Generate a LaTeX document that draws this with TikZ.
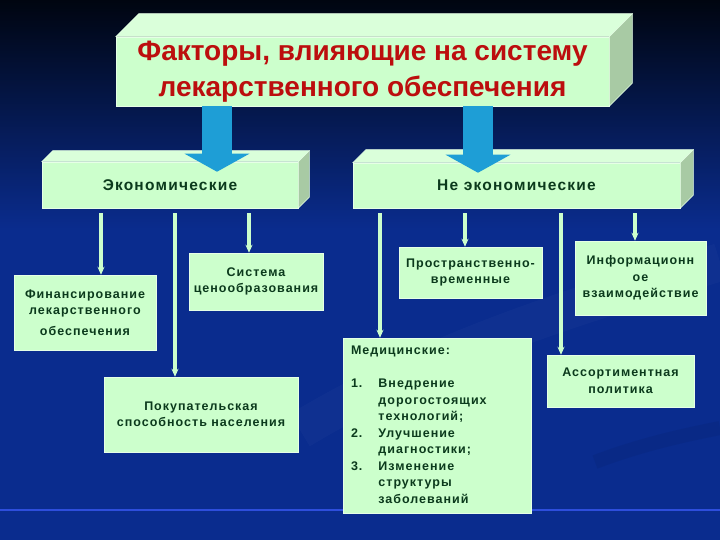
\documentclass[tikz,border=0pt]{standalone}
\usepackage{fontspec}
\setmainfont{Liberation Sans}
\newfontfamily\boxfont[LetterSpace=8]{Liberation Sans}
\usetikzlibrary{positioning,calc,arrows.meta}
\definecolor{bgtop}{HTML}{000510}
\definecolor{bgblue}{HTML}{0A2C8E}
\definecolor{boxfill}{HTML}{CCFFCC}
\definecolor{boxtop}{HTML}{DAFFDA}
\definecolor{boxside}{HTML}{A8CAA4}
\definecolor{boxedge}{HTML}{E6FFE6}
\definecolor{txtgreen}{HTML}{0B3A1C}
\definecolor{titlered}{HTML}{BC0E0E}
\definecolor{arrcyan}{HTML}{1E9ED6}
\definecolor{rulecol}{HTML}{2E4EDC}

\begin{document}
\begin{tikzpicture}[x=1pt,y=-1pt,
  facebox/.style={draw=boxedge, line width=0.5pt, fill=boxfill, inner sep=0pt, align=center},
  topface/.style={draw=boxedge, line width=0.5pt, fill=boxtop},
  sideface/.style={draw=boxedge, line width=0.5pt, fill=boxside},
  headtext/.style={font=\fontsize{28}{36}\selectfont\bfseries\color{titlered}},
  grouptext/.style={font=\boxfont\fontsize{15.5}{19}\selectfont\bfseries\color{txtgreen}},
  itemtext/.style={font=\boxfont\fontsize{12.5}{16.5}\selectfont\bfseries\color{txtgreen}},
  blockarrow/.style={-{Triangle[length=18pt,width=64pt]}, line width=30pt, arrcyan},
  thinarrow/.style={-{Stealth[length=8pt,width=7pt]}, line width=3.5pt, boxfill, shorten <=5pt},
]
\useasboundingbox (0,0) rectangle (720,540);

% Background and swooshes
\fill[top color=bgtop, bottom color=bgblue] (0,0) rectangle (720,230);
\fill[bgblue] (0,230) rectangle (720,540);
\draw[white, opacity=0.025, line width=38pt] (300,430) .. controls (450,340) and (600,300) .. (720,262);
\draw[black, opacity=0.05, line width=14pt] (595,462) .. controls (640,445) and (680,436) .. (720,428);
\draw[rulecol, line width=1.5pt] (0,510) -- (720,510);

% Title box
\node[facebox, minimum width=493, minimum height=69, headtext] (title) at (362.5,71.5)
  {Факторы, влияющие на систему\\лекарственного обеспечения};

% Two groups
\node[facebox, minimum width=256, minimum height=46, grouptext] (econ) at (170,185) {Экономические};
\node[facebox, minimum width=327, minimum height=45, grouptext] (nonecon) at (516.5,185.5) {Не экономические};

% 3D faces
\foreach \b/\d in {title/23, econ/11, nonecon/13} {
  \filldraw[topface] (\b.north west) -- ++(\d,-\d) -- ([shift={(\d,-\d)}]\b.north east) -- (\b.north east) -- cycle;
  \filldraw[sideface] (\b.north east) -- ([shift={(\d,-\d)}]\b.north east) -- ([shift={(\d,-\d)}]\b.south east) -- (\b.south east) -- cycle;
}

% Factor boxes
\node[facebox, minimum width=142, minimum height=75, itemtext] (fin) at (85,312.5)
  {Финансирование\\лекарственного\\[4pt]обеспечения};
\node[facebox, minimum width=134, minimum height=57, itemtext] (price) at (256,281.5)
  {Система\\ценообразования};
\node[facebox, minimum width=194, minimum height=75, itemtext] (buy) at (201,414.5)
  {Покупательская\\способность населения};
\node[facebox, minimum width=143, minimum height=51, itemtext] (prostr) at (470.5,272.5)
  {Пространственно-\\временные};
\node[facebox, minimum width=131, minimum height=74, itemtext] (info) at (640.5,278)
  {Информационн\\ое\\взаимодействие};
\node[facebox, minimum width=147, minimum height=52, itemtext] (assort) at (620.5,381)
  {Ассортиментная\\политика};
\node[facebox, minimum height=175, inner xsep=8pt, text width=172pt, align=left, itemtext] (med) at (437,425.5)
  {\begin{tabular}{@{}l@{\hspace{16pt}}l@{}}
    \multicolumn{2}{@{}l@{}}{Медицинские:}\\[16.5pt]
    1. & Внедрение\\
       & дорогостоящих\\
       & технологий;\\
    2. & Улучшение\\
       & диагностики;\\
    3. & Изменение\\
       & структуры\\
       & заболеваний
  \end{tabular}};

% Arrows
\foreach \ax/\dst in {217/econ, 478/nonecon}
  \draw[blockarrow, shorten >=-10pt] (\ax,0 |- title.south) -- (\ax,0 |- \dst.north);
\foreach \ax/\dst in {101/fin, 175/buy, 249/price}
  \draw[thinarrow] (\ax,0 |- econ.south) -- (\ax,0 |- \dst.north);
\foreach \ax/\dst in {380/med, 465/prostr, 561/assort, 635/info}
  \draw[thinarrow] (\ax,0 |- nonecon.south) -- (\ax,0 |- \dst.north);
\end{tikzpicture}
\end{document}
